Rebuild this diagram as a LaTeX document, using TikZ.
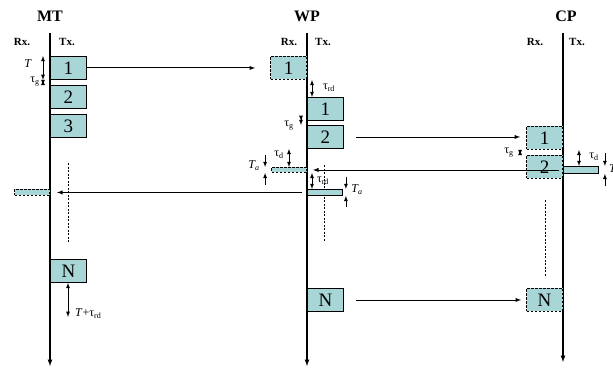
\documentclass[tikz,border=0pt]{standalone}
\usepackage{fontspec}
\setmainfont{Liberation Serif}
\usetikzlibrary{arrows,positioning,calc}
\definecolor{slotfill}{RGB}{168,213,213}
\tikzset{
	slot/.style={draw,fill=slotfill,line width=0.9pt,minimum width=36pt,minimum height=23pt,inner sep=0pt,anchor=north west,font=\fontsize{19}{19}\selectfont},
	rxslot/.style={slot,dash pattern=on 2.5pt off 1.5pt,anchor=north east},
	bar/.style={draw,fill=slotfill,line width=0.9pt,minimum width=35pt,inner sep=0pt},
	dashbar/.style={bar,dash pattern=on 2.5pt off 1.5pt,anchor=north east},
	station/.style={font=\fontsize{16}{16}\selectfont\bfseries},
	side/.style={font=\fontsize{11}{11}\selectfont\bfseries},
	lbl/.style={font=\fontsize{12}{12}\selectfont,inner sep=1pt},
	lifeline/.style={-latex,line width=1.2pt},
	gap/.style={latex-latex,line width=0.8pt},
	pinch/.style={-latex,line width=0.8pt},
	trail/.style={line width=0.8pt,dash pattern=on 2pt off 1.5pt}
}
\begin{document}
\begin{tikzpicture}[x=1pt,y=-1pt]
	\useasboundingbox (0,0) rectangle (613,369);
	\node[station] (mt) at (50,16) {MT};
	\node[station] (wp) at (307,16) {WP};
	\node[station] (cp) at (566,16) {CP};
	\node[side] (mtrx) at (22,42) {Rx.};
	\node[side] (mttx) at (67,42) {Tx.};
	\node[side] (wprx) at (289,42) {Rx.};
	\node[side] (wptx) at (323,42) {Tx.};
	\node[side] (cprx) at (535,42) {Rx.};
	\node[side] (cptx) at (577,42) {Tx.};
	\foreach \s/\x/\e in {mt/50/366,wp/307/366,cp/563/362}{
		\coordinate (\s top) at (\x,33);
		\coordinate (\s bot) at (\x,\e);
		\draw[lifeline] (\s top) -- (\s bot);
	}
	\draw[trail] (68,163) -- (68,242);
	\draw[trail] (324,165) -- (324,242);
	\draw[trail] (545,200) -- (545,277);

	\node[slot] (mt1) at (50,56) {1};
	\node[slot] (mt2) at (50,85) {2};
	\node[slot] (mt3) at (50,114) {3};
	\node[slot] (mtN) at (50,259) {N};
	\node[rxslot] (wpr1) at (307,56) {1};
	\node[slot] (wpt1) at (307,97) {1};
	\node[slot] (wpt2) at (307,125) {2};
	\node[slot] (wptN) at (307,288) {N};
	\node[rxslot] (cpr1) at (563,126) {1};
	\node[rxslot] (cpr2) at (563,155) {2};
	\node[rxslot] (cprN) at (563,288) {N};
	\node[bar,minimum height=7pt,anchor=north west] (cpbar) at (563,166) {};
	\node[dashbar,minimum height=5pt] (wprbar) at (307,167) {};
	\node[bar,minimum height=6pt,anchor=north west] (wptbar) at (307,189) {};
	\node[dashbar,minimum height=6pt] (mtrbar) at (50,189) {};
	\coordinate (cpack) at ([xshift=-4pt]cpbar.west);
	\coordinate (wpack) at ([xshift=-5pt]wptbar.west);

	\path[-latex,line width=0.9pt]
	(mt1.east) edge[shorten >=15pt] (mt1.east -| wpr1.west)
	(wpt2.east) edge[shorten <=12pt,shorten >=6pt] (wpt2.east -| cpr1.west)
	(cpack) edge[shorten >=6pt] (cpack -| wptop)
	(wpack) edge[shorten >=7pt] (wpack -| mttop)
	(wptN.east) edge[shorten <=12pt,shorten >=5pt] (cprN.west);

	\path[gap]
	([xshift=-7pt]mt1.north west) edge ([xshift=-7pt]mt1.south west)
	([xshift=-7pt]mt1.south west) edge ([xshift=-7pt]mt2.north west)
	([xshift=5pt]wpr1.south east) edge ([xshift=5pt]wpt1.north west)
	([xshift=-6pt]wpt1.south west) edge ([xshift=-6pt]wpt2.north west)
	([xshift=-6pt]cpr1.south west) edge ([xshift=-6pt]cpr2.north west)
	([xshift=16pt]cpr1.south east) edge ([xshift=16pt]cpbar.north west)
	([xshift=-18pt]wpt2.south west) edge ([xshift=-18pt]wprbar.north east)
	([xshift=5pt]wprbar.south east) edge ([xshift=5pt]wptbar.north west)
	([xshift=18pt]mtN.south west) edge ([xshift=18pt,yshift=-34pt]mtN.south west);
	\path[pinch]
	([xshift=6pt,yshift=13pt]cpbar.north east) edge ([xshift=6pt]cpbar.north east)
	([xshift=6pt,yshift=-12pt]cpbar.south east) edge ([xshift=6pt]cpbar.south east)
	([xshift=-6pt,yshift=12pt]wprbar.north west) edge ([xshift=-6pt]wprbar.north west)
	([xshift=-6pt,yshift=-12pt]wprbar.south west) edge ([xshift=-6pt]wprbar.south west)
	([xshift=3pt,yshift=12pt]wptbar.north east) edge ([xshift=3pt]wptbar.north east)
	([xshift=3pt,yshift=-11pt]wptbar.south east) edge ([xshift=3pt]wptbar.south east);

	\node[lbl] (mtT) at (28,64) {\textit{T}};
	\node[lbl] (mtg) at (35,82) {τ\textsubscript{g}};
	\node[lbl] (wprd) at (329,88) {τ\textsubscript{rd}};
	\node[lbl] (wpg) at (289,126) {τ\textsubscript{g}};
	\node[lbl] (cpg) at (509,153) {τ\textsubscript{g}};
	\node[lbl] (cpd) at (594,157) {τ\textsubscript{d}};
	\node[lbl,anchor=west] (cpa) at (608,170) {\textit{T\textsubscript{a}}};
	\node[lbl] (wpd) at (279,155) {τ\textsubscript{d}};
	\node[lbl] (wpa) at (254,166) {\textit{T\textsubscript{a}}};
	\node[lbl] (wprd2) at (323,181) {τ\textsubscript{rd}};
	\node[lbl] (wpa2) at (357,190) {\textit{T\textsubscript{a}}};
	\node[lbl,anchor=west] (mtrd) at (74,314) {\textit{T}+τ\textsubscript{rd}};
\end{tikzpicture}
\end{document}
